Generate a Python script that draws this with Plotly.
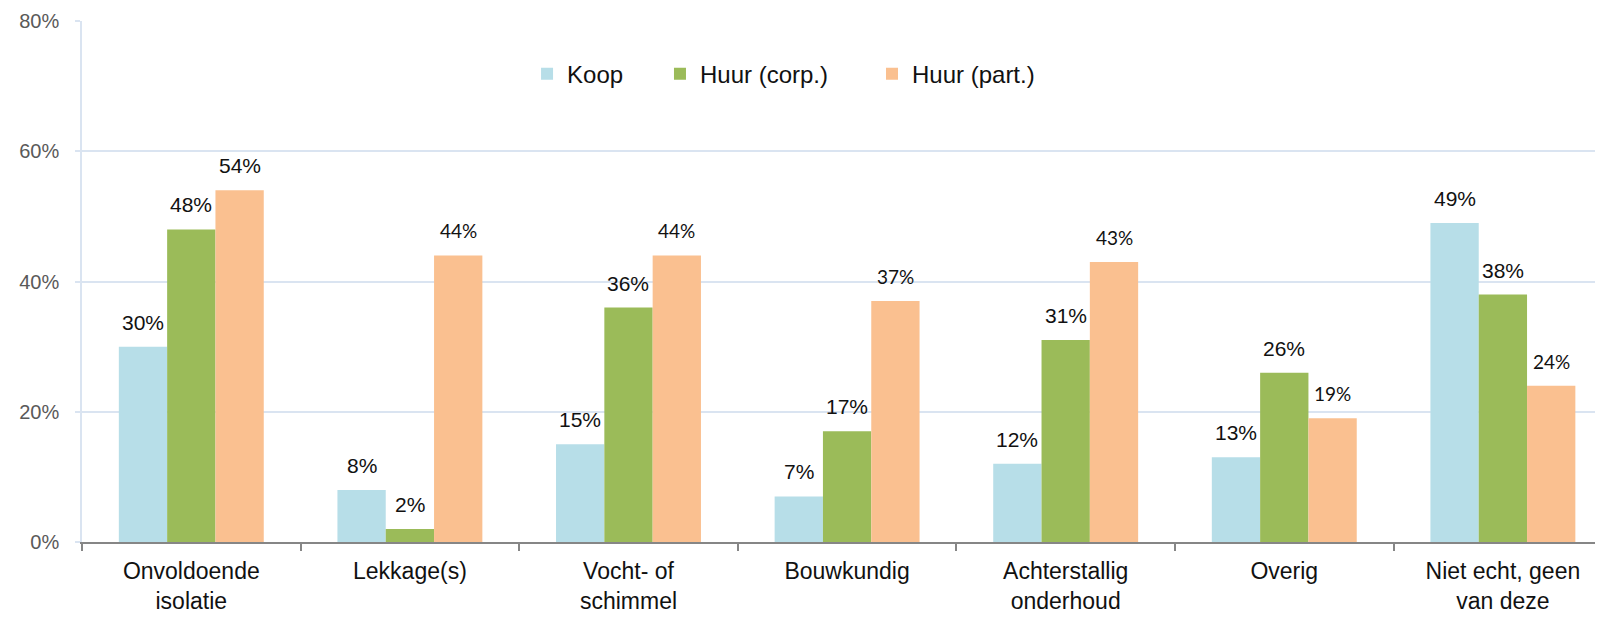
import plotly.graph_objects as go

categories = ["Onvoldoende<br>isolatie", "Lekkage(s)", "Vocht- of<br>schimmel", "Bouwkundig",
              "Achterstallig<br>onderhoud", "Overig", "Niet echt, geen<br>van deze"]
series_names = ["Koop", "Huur (corp.)", "Huur (part.)"]
koop = [30, 8, 15, 7, 12, 13, 49]
huur_corp = [48, 2, 36, 17, 31, 26, 38]
huur_part = [54, 44, 44, 37, 43, 19, 24]
# label font style for the particuliere huur labels (1 = alternate font in source)
part_alt_font = [0, 1, 1, 1, 1, 1, 1]

colors = ["#b7dee8", "#9bbb59", "#fac090"]
series = [koop, huur_corp, huur_part]
legend_ids = ["legend", "legend2", "legend3"]
legend_x = [0.2926, 0.380, 0.5194]

ARIAL = "Liberation Sans, Arial, sans-serif"
ALT = "Lato, Open Sans, sans-serif"

fig = go.Figure()
for name, vals, col, lid in zip(series_names, series, colors, legend_ids):
    fig.add_trace(go.Bar(
        x=categories, y=vals, name=name, legend=lid,
        marker=dict(color=col, line=dict(width=0)),
    ))

BARGAP = 0.337
bar_w = (1 - BARGAP) / 3
for si, vals in enumerate(series):
    off = (si - 1) * bar_w
    for ci, v in enumerate(vals):
        alt = si == 2 and part_alt_font[ci] == 1
        fig.add_annotation(
            x=ci + off, y=v, xref="x", yref="y",
            text=f"{v}%", showarrow=False,
            yanchor="bottom", yshift=11,
            font=dict(family=ALT if alt else ARIAL, size=19 if alt else 21, color="#111111"),
        )

legend_common = dict(orientation="h", xanchor="left", y=0.898, yanchor="middle",
                     font=dict(size=24, family=ARIAL, color="#111111"),
                     bgcolor="rgba(0,0,0,0)", borderwidth=0)
fig.update_layout(
    width=1595, height=609,
    margin=dict(l=74, r=0, t=13, b=75),
    paper_bgcolor="white", plot_bgcolor="white",
    barmode="group", bargap=BARGAP, bargroupgap=0,
    font=dict(family=ARIAL, color="#111111"),
    legend=dict(x=legend_x[0], **legend_common),
    legend2=dict(x=legend_x[1], **legend_common),
    legend3=dict(x=legend_x[2], **legend_common),
    showlegend=True,
)
fig.update_xaxes(
    type="category", categoryorder="array", categoryarray=categories,
    range=[-0.5, 6.458], tickson="boundaries", automargin=False,
    showline=True, linecolor="#868686", linewidth=1.5,
    ticks="outside", ticklen=7, tickcolor="#868686", tickwidth=1.5,
    showgrid=False, zeroline=False, ticklabelstandoff=8,
    tickfont=dict(size=23, family=ARIAL, color="#111111"),
)
fig.update_yaxes(
    range=[0, 80], tickvals=[0, 20, 40, 60, 80], ticktext=["0%", "20%", "40%", "60%", "80%"],
    showgrid=True, gridcolor="#dae4f1", gridwidth=1.5, automargin=False,
    showline=True, linecolor="#dae4f1", linewidth=1.5,
    ticks="outside", ticklen=5, tickcolor="#dae4f1", tickwidth=1.5,
    zeroline=False, ticklabelstandoff=12,
    tickfont=dict(size=20, family=ARIAL, color="#595959"),
)
fig.write_html("out.html")
